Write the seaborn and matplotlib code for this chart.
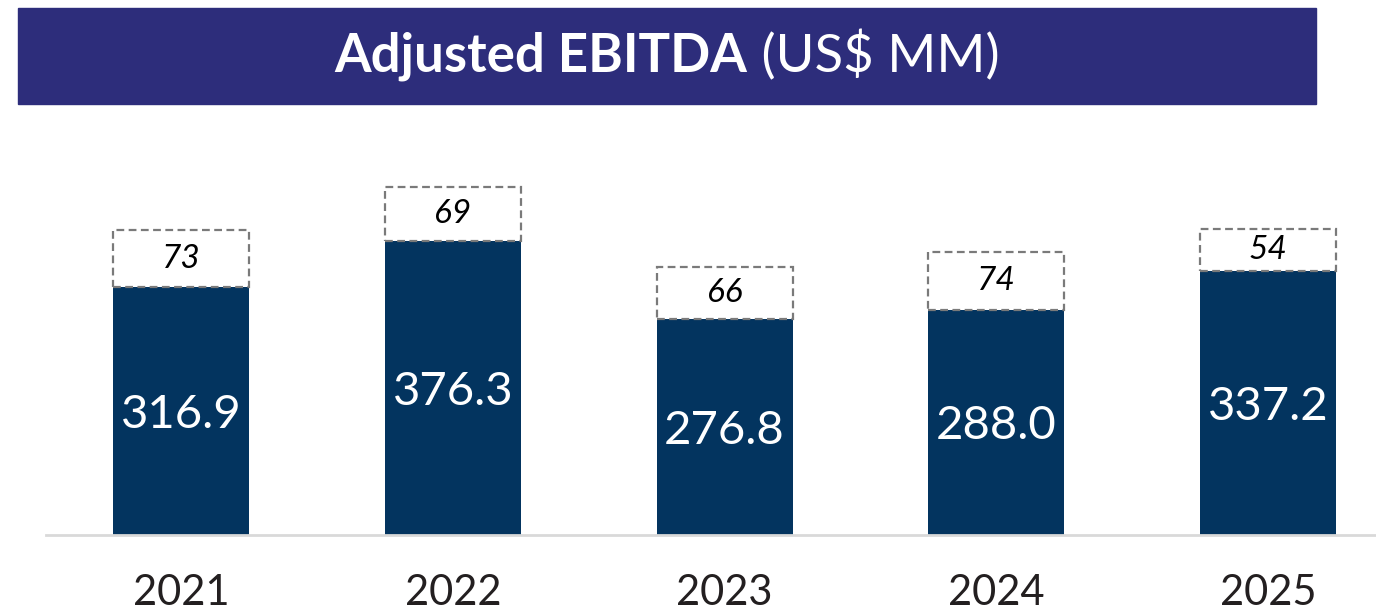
import numpy as np, pandas as pd
import matplotlib; matplotlib.use("Agg"); import matplotlib.pyplot as plt
import seaborn as sns
from matplotlib.patches import Rectangle

# values
years = ["2021", "2022", "2023", "2024", "2025"]
ebitda = [316.9, 376.3, 276.8, 288.0, 337.2]
extra = [73, 69, 66, 74, 54]
title_bold = "Adjusted EBITDA"
title_rest = " (US$ MM)"

NAVY = "#03345F"; BANNER = "#2D2D7B"; DASH = "#7A7A7A"; INK = "#231F20"

sns.set_theme(style="white")
plt.rcParams["font.family"] = ["Lato", "DejaVu Sans"]

W, H = 1376, 612
fig = plt.figure(figsize=(W/100, H/100), dpi=100)
ax = fig.add_axes([46/W, 1-535/H, 1-46/W, 415/H])

df = pd.DataFrame({"year": years, "ebitda": ebitda, "extra": extra})
sns.barplot(data=df, x="year", y="ebitda", order=years, color=NAVY,
            saturation=1, width=0.5, ax=ax, zorder=2, linewidth=0)

# dashed boxes stacked on top of each bar
xpos = np.arange(len(years))
ax.bar(xpos, df["extra"], bottom=df["ebitda"], width=0.5, facecolor="white",
       edgecolor=DASH, linewidth=1.6, linestyle=(0, (3.5, 2)), zorder=3)

for i, (b, e) in enumerate(zip(ebitda, extra)):
    ax.text(i, b/2, f"{b:.1f}", ha="center", va="center_baseline", color="white",
            fontsize=34)
    ax.text(i, b + e/2, f"{e}", ha="center", va="center", color="black",
            fontsize=24, style="italic")

ax.set_xlim(-0.497, 4.397); ax.set_ylim(0, 530.7)
ax.set_xlabel(""); ax.set_ylabel(""); ax.set_yticks([])
ax.tick_params(axis="x", length=0, pad=28, labelsize=30, labelcolor=INK)
for s in ["top", "right", "left"]:
    ax.spines[s].set_visible(False)
ax.spines["bottom"].set_color("#D9D9D9"); ax.spines["bottom"].set_linewidth(2)

# title banner
fig.patches.append(Rectangle((18/W, 1-104/H), (1316-18)/W, 96/H,
                             transform=fig.transFigure, color=BANNER, zorder=0))
r = fig.canvas.get_renderer()
t1 = fig.text(0, 1-56/H, title_bold, color="white", fontsize=38,
              fontweight="bold", va="center")
t2 = fig.text(0, 1-56/H, title_rest, color="white", fontsize=38, va="center")
w1 = t1.get_window_extent(r).width; w2 = t2.get_window_extent(r).width
x0 = 667 - (w1 + w2)/2
t1.set_x(x0/W); t2.set_x((x0 + w1)/W)

fig.savefig("out.png", dpi=100)
